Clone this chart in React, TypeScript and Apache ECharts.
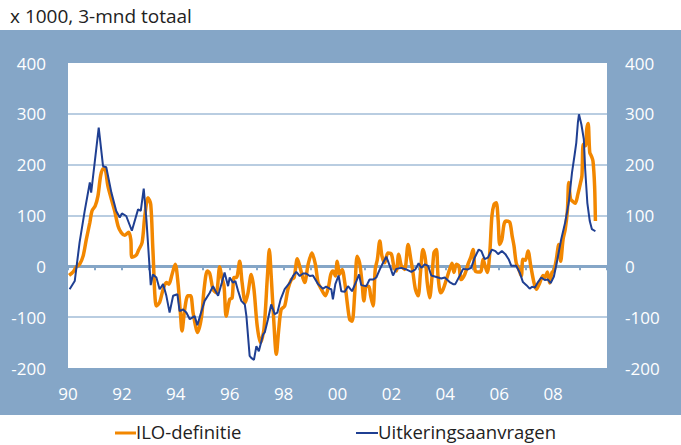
import React, { useEffect, useRef } from "react";
import * as echarts from "echarts";

// Years (decimal) and values
const iloYears = [
  1990.04, 1990.19, 1990.31, 1990.43, 1990.56, 1990.68, 1990.81, 1990.89, 1991.01, 1991.11,
  1991.21, 1991.30, 1991.38, 1991.48, 1991.61, 1991.73, 1991.86, 1991.98, 1992.10, 1992.25,
  1992.33, 1992.37, 1992.53, 1992.62, 1992.75, 1992.85, 1992.97, 1993.07, 1993.15, 1993.28,
  1993.40, 1993.53, 1993.65, 1993.74, 1993.86, 1993.98, 1994.08, 1994.17, 1994.23, 1994.33,
  1994.45, 1994.55, 1994.64, 1994.72, 1994.80, 1994.95, 1995.05, 1995.17, 1995.26, 1995.38,
  1995.50, 1995.63, 1995.71, 1995.79, 1995.87, 1996.00, 1996.09, 1996.16, 1996.25, 1996.37,
  1996.46, 1996.58, 1996.68, 1996.80, 1996.90, 1997.02, 1997.14, 1997.27, 1997.40, 1997.47,
  1997.54, 1997.64, 1997.73, 1997.82, 1997.91, 1998.04, 1998.16, 1998.29, 1998.39, 1998.51,
  1998.63, 1998.78, 1998.91, 1999.05, 1999.18, 1999.28, 1999.40, 1999.55, 1999.67, 1999.75,
  1999.83, 1999.92, 1999.99, 2000.08, 2000.17, 2000.27, 2000.36, 2000.45, 2000.54, 2000.64,
  2000.73, 2000.82, 2000.91, 2000.98, 2001.07, 2001.16, 2001.23, 2001.32, 2001.40, 2001.48,
  2001.57, 2001.65, 2001.75, 2001.87, 2002.00, 2002.10, 2002.18, 2002.27, 2002.37, 2002.49,
  2002.62, 2002.72, 2002.80, 2002.89, 2002.99, 2003.08, 2003.17, 2003.26, 2003.33, 2003.42,
  2003.51, 2003.58, 2003.67, 2003.73, 2003.83, 2003.92, 2004.04, 2004.16, 2004.25, 2004.32,
  2004.41, 2004.50, 2004.59, 2004.72, 2004.84, 2004.94, 2005.03, 2005.11, 2005.21, 2005.31,
  2005.40, 2005.46, 2005.56, 2005.65, 2005.73, 2005.81, 2005.89, 2005.96, 2006.02, 2006.10,
  2006.18, 2006.26, 2006.39, 2006.48, 2006.55, 2006.63, 2006.72, 2006.82, 2006.88, 2006.97,
  2007.07, 2007.17, 2007.29, 2007.38, 2007.50, 2007.63, 2007.69, 2007.79, 2007.87, 2007.96,
  2008.03, 2008.12, 2008.21, 2008.28, 2008.37, 2008.45, 2008.53, 2008.58, 2008.65, 2008.74,
  2008.82, 2008.92, 2009.02, 2009.07, 2009.12, 2009.20, 2009.25, 2009.30, 2009.36, 2009.42,
  2009.48, 2009.54, 2009.57,
];
const iloValues = [
  -18, -11, -1, 4, 20, 53, 86, 109, 119, 138,
  178, 192, 191, 158, 132, 109, 79, 66, 61, 67,
  53, 18, 22, 32, 47, 99, 135, 122, 33, -78,
  -71, -45, -32, -35, -16, 4, -32, -91, -127, -85,
  -58, -58, -91, -114, -130, -101, -45, -9, -14, -45,
  -52, -1, -22, -39, -98, -65, -62, -22, -22, 10,
  -32, -71, -52, -16, -45, -117, -150, -124, -19, 33,
  -19, -111, -173, -124, -85, -78, -45, -26, -22, 15,
  -6, -32, 4, 26, 4, -32, -45, -58, -39, -16,
  -9, -19, 10, -16, -6, -32, -71, -104, -108, -52,
  20, 7, -32, -68, -39, -39, -58, -78, -6, 14,
  50, 20, 7, 26, 24, -3, -9, 24, 1, -6,
  43, 14, -12, -45, -58, -12, 33, 14, -32, -62,
  -19, 27, 33, -19, -52, -45, -26, -6, 6, -12,
  4, 1, -26, -16, 4, 17, 33, -9, -11, -11,
  14, 4, -12, 27, 99, 122, 125, 92, 43, 53,
  83, 89, 87, 60, 40, 7, -5, -19, 14, 12,
  30, 1, -32, -45, -33, -18, -22, -11, -33, -12,
  -9, 14, 43, 10, 53, 73, 109, 165, 132, 127,
  124, 142, 165, 178, 240, 237, 270, 281, 224, 217,
  207, 158, 89,
];

const uitkYears = [
  1990.06, 1990.25, 1990.43, 1990.62, 1990.81, 1990.86, 1990.99, 1991.14, 1991.30, 1991.42,
  1991.61, 1991.79, 1991.92, 1992.00, 1992.16, 1992.37, 1992.60, 1992.70, 1992.81, 1992.91,
  1993.07, 1993.15, 1993.28, 1993.40, 1993.53, 1993.65, 1993.77, 1993.90, 1994.06, 1994.14,
  1994.27, 1994.39, 1994.52, 1994.70, 1994.80, 1994.92, 1995.07, 1995.26, 1995.38, 1995.57,
  1995.71, 1995.81, 1995.94, 1996.00, 1996.12, 1996.21, 1996.31, 1996.43, 1996.56, 1996.62,
  1996.74, 1996.80, 1996.90, 1996.99, 1997.08, 1997.24, 1997.30, 1997.42, 1997.54, 1997.67,
  1997.77, 1997.89, 1998.04, 1998.23, 1998.35, 1998.47, 1998.60, 1998.72, 1998.84, 1998.97,
  1999.09, 1999.28, 1999.46, 1999.58, 1999.71, 1999.77, 1999.83, 1999.92, 2000.04, 2000.14,
  2000.27, 2000.39, 2000.54, 2000.70, 2000.80, 2000.88, 2001.07, 2001.19, 2001.32, 2001.44,
  2001.57, 2001.69, 2001.81, 2001.94, 2002.06, 2002.18, 2002.37, 2002.55, 2002.74, 2002.89,
  2003.01, 2003.11, 2003.24, 2003.36, 2003.48, 2003.67, 2003.85, 2003.98, 2004.16, 2004.29,
  2004.37, 2004.53, 2004.66, 2004.84, 2004.96, 2005.09, 2005.24, 2005.34, 2005.46, 2005.58,
  2005.73, 2005.86, 2005.96, 2006.10, 2006.23, 2006.35, 2006.45, 2006.63, 2006.76, 2006.88,
  2007.01, 2007.13, 2007.22, 2007.32, 2007.44, 2007.56, 2007.69, 2007.81, 2007.91, 2008.03,
  2008.16, 2008.30, 2008.45, 2008.58, 2008.70, 2008.80, 2008.86, 2008.92, 2008.96, 2009.05,
  2009.14, 2009.19, 2009.27, 2009.36, 2009.44, 2009.57,
];
const uitkValues = [
  -45, -29, 47, 109, 165, 145, 204, 273, 197, 195,
  145, 109, 96, 104, 99, 70, 112, 109, 153, 92,
  -37, -16, -22, -45, -35, -58, -91, -58, -55, -88,
  -85, -91, -104, -98, -116, -94, -68, -52, -39, -58,
  -32, -12, -39, -22, -32, -29, -48, -68, -75, -98,
  -176, -180, -184, -157, -167, -134, -130, -104, -75, -94,
  -91, -65, -45, -32, -19, -11, -19, -14, -14, -19,
  -18, -35, -44, -40, -44, -45, -65, -35, -18, -49,
  -50, -39, -49, -29, -16, -37, -39, -26, -26, -22,
  -6, 7, 19, 1, -18, -5, -3, -6, -11, -6,
  6, -3, 4, 1, -18, -21, -24, -22, -31, -35,
  -35, -19, -5, -6, -3, 17, 33, 30, 14, 17,
  33, 30, 24, 30, 24, 14, 1, 1, -12, -31,
  -37, -44, -40, -42, -31, -22, -27, -26, -33, -20,
  14, 53, 87, 125, 184, 220, 243, 283, 299, 279,
  250, 191, 125, 89, 73, 69,
];

const seriesNames = ["ILO-definitie", "Uitkeringsaanvragen"];
const subtitle = "x 1000, 3-mnd totaal";
const yMin = -200;
const yMax = 400;
const yStep = 100;
const xMin = 1990;
const xMax = 2010;

const ORANGE = "#f28700";
const NAVY = "#1f3f92";
const BAND = "#85a6c7";
const GRID = "#a2bcd7";
const FONT = "Open Sans";

export default function App() {
  const ref = useRef<HTMLDivElement>(null);

  useEffect(() => {
    if (!ref.current) return;
    const chart = echarts.init(ref.current, undefined, { renderer: "svg" });
    const zip = (xs: number[], ys: number[]) => xs.map((x, i) => [x, ys[i]]);
    const yLabel = {
      color: "#ffffff",
      fontSize: 17,
      fontFamily: FONT,
    };
    chart.setOption({
      animation: false,
      backgroundColor: "transparent",
      textStyle: { fontFamily: FONT },
      grid: {
        left: 68,
        right: 74,
        top: 63,
        bottom: 77,
        show: true,
        backgroundColor: "#ffffff",
        borderWidth: 0,
      },
      xAxis: [
        {
          type: "value",
          min: xMin,
          max: xMax,
          interval: 2,
          position: "bottom",
          axisLine: { show: false, onZero: false },
          axisTick: { show: false },
          splitLine: { show: false },
          axisLabel: {
            color: "#ffffff",
            fontSize: 17,
            fontFamily: FONT,
            margin: 17,
            formatter: (v: number) => (v < xMax ? String(v).slice(2) : ""),
          },
        },
        {
          type: "value",
          min: xMin,
          max: xMax,
          interval: 1,
          position: "bottom",
          axisLine: { show: true, onZero: true, lineStyle: { color: BAND, width: 3 } },
          axisTick: { show: true, length: 4, lineStyle: { color: BAND, width: 2 } },
          axisLabel: { show: false },
          splitLine: { show: false },
        },
      ],
      yAxis: [
        {
          type: "value",
          min: yMin,
          max: yMax,
          interval: yStep,
          position: "left",
          axisLine: { show: false },
          axisTick: { show: false },
          axisLabel: { ...yLabel, margin: 22 },
          splitLine: {
            show: true,
            showMinLine: false,
            showMaxLine: false,
            lineStyle: { color: GRID, width: 1.5 },
          },
        },
        {
          type: "value",
          min: yMin,
          max: yMax,
          interval: yStep,
          position: "right",
          axisLine: { show: false },
          axisTick: { show: false },
          axisLabel: { ...yLabel, margin: 18 },
          splitLine: { show: false },
        },
      ],
      series: [
        {
          name: seriesNames[0],
          type: "line",
          xAxisIndex: 0,
          yAxisIndex: 0,
          data: zip(iloYears, iloValues),
          showSymbol: false,
          smooth: 0.3,
          lineStyle: { color: ORANGE, width: 3.5 },
          itemStyle: { color: ORANGE },
          z: 3,
        },
        {
          name: seriesNames[1],
          type: "line",
          xAxisIndex: 0,
          yAxisIndex: 0,
          data: zip(uitkYears, uitkValues),
          showSymbol: false,
          lineStyle: { color: NAVY, width: 2 },
          itemStyle: { color: NAVY },
          z: 4,
        },
      ],
      graphic: [
        {
          type: "text",
          left: 10,
          top: 6,
          style: { text: subtitle, fill: "#222222", fontSize: 19, fontFamily: FONT },
        },
        {
          type: "line",
          shape: { x1: 115, y1: 433, x2: 136, y2: 433 },
          style: { stroke: ORANGE, lineWidth: 3 },
        },
        {
          type: "text",
          x: 136,
          y: 431,
          style: {
            text: seriesNames[0],
            fill: "#222222",
            fontSize: 18.5,
            fontFamily: FONT,
            verticalAlign: "middle",
          },
        },
        {
          type: "line",
          shape: { x1: 356, y1: 433, x2: 378, y2: 433 },
          style: { stroke: NAVY, lineWidth: 2 },
        },
        {
          type: "text",
          x: 378,
          y: 431,
          style: {
            text: seriesNames[1],
            fill: "#222222",
            fontSize: 18.5,
            fontFamily: FONT,
            verticalAlign: "middle",
          },
        },
      ],
    });
    return () => chart.dispose();
  }, []);

  return (
    <div
      ref={ref}
      style={{
        position: "fixed",
        left: 0,
        top: 0,
        width: 681,
        height: 445,
        background: `linear-gradient(to bottom, #ffffff 0px, #ffffff 30px, ${BAND} 30px, ${BAND} 415px, #ffffff 415px)`,
      }}
    />
  );
}
